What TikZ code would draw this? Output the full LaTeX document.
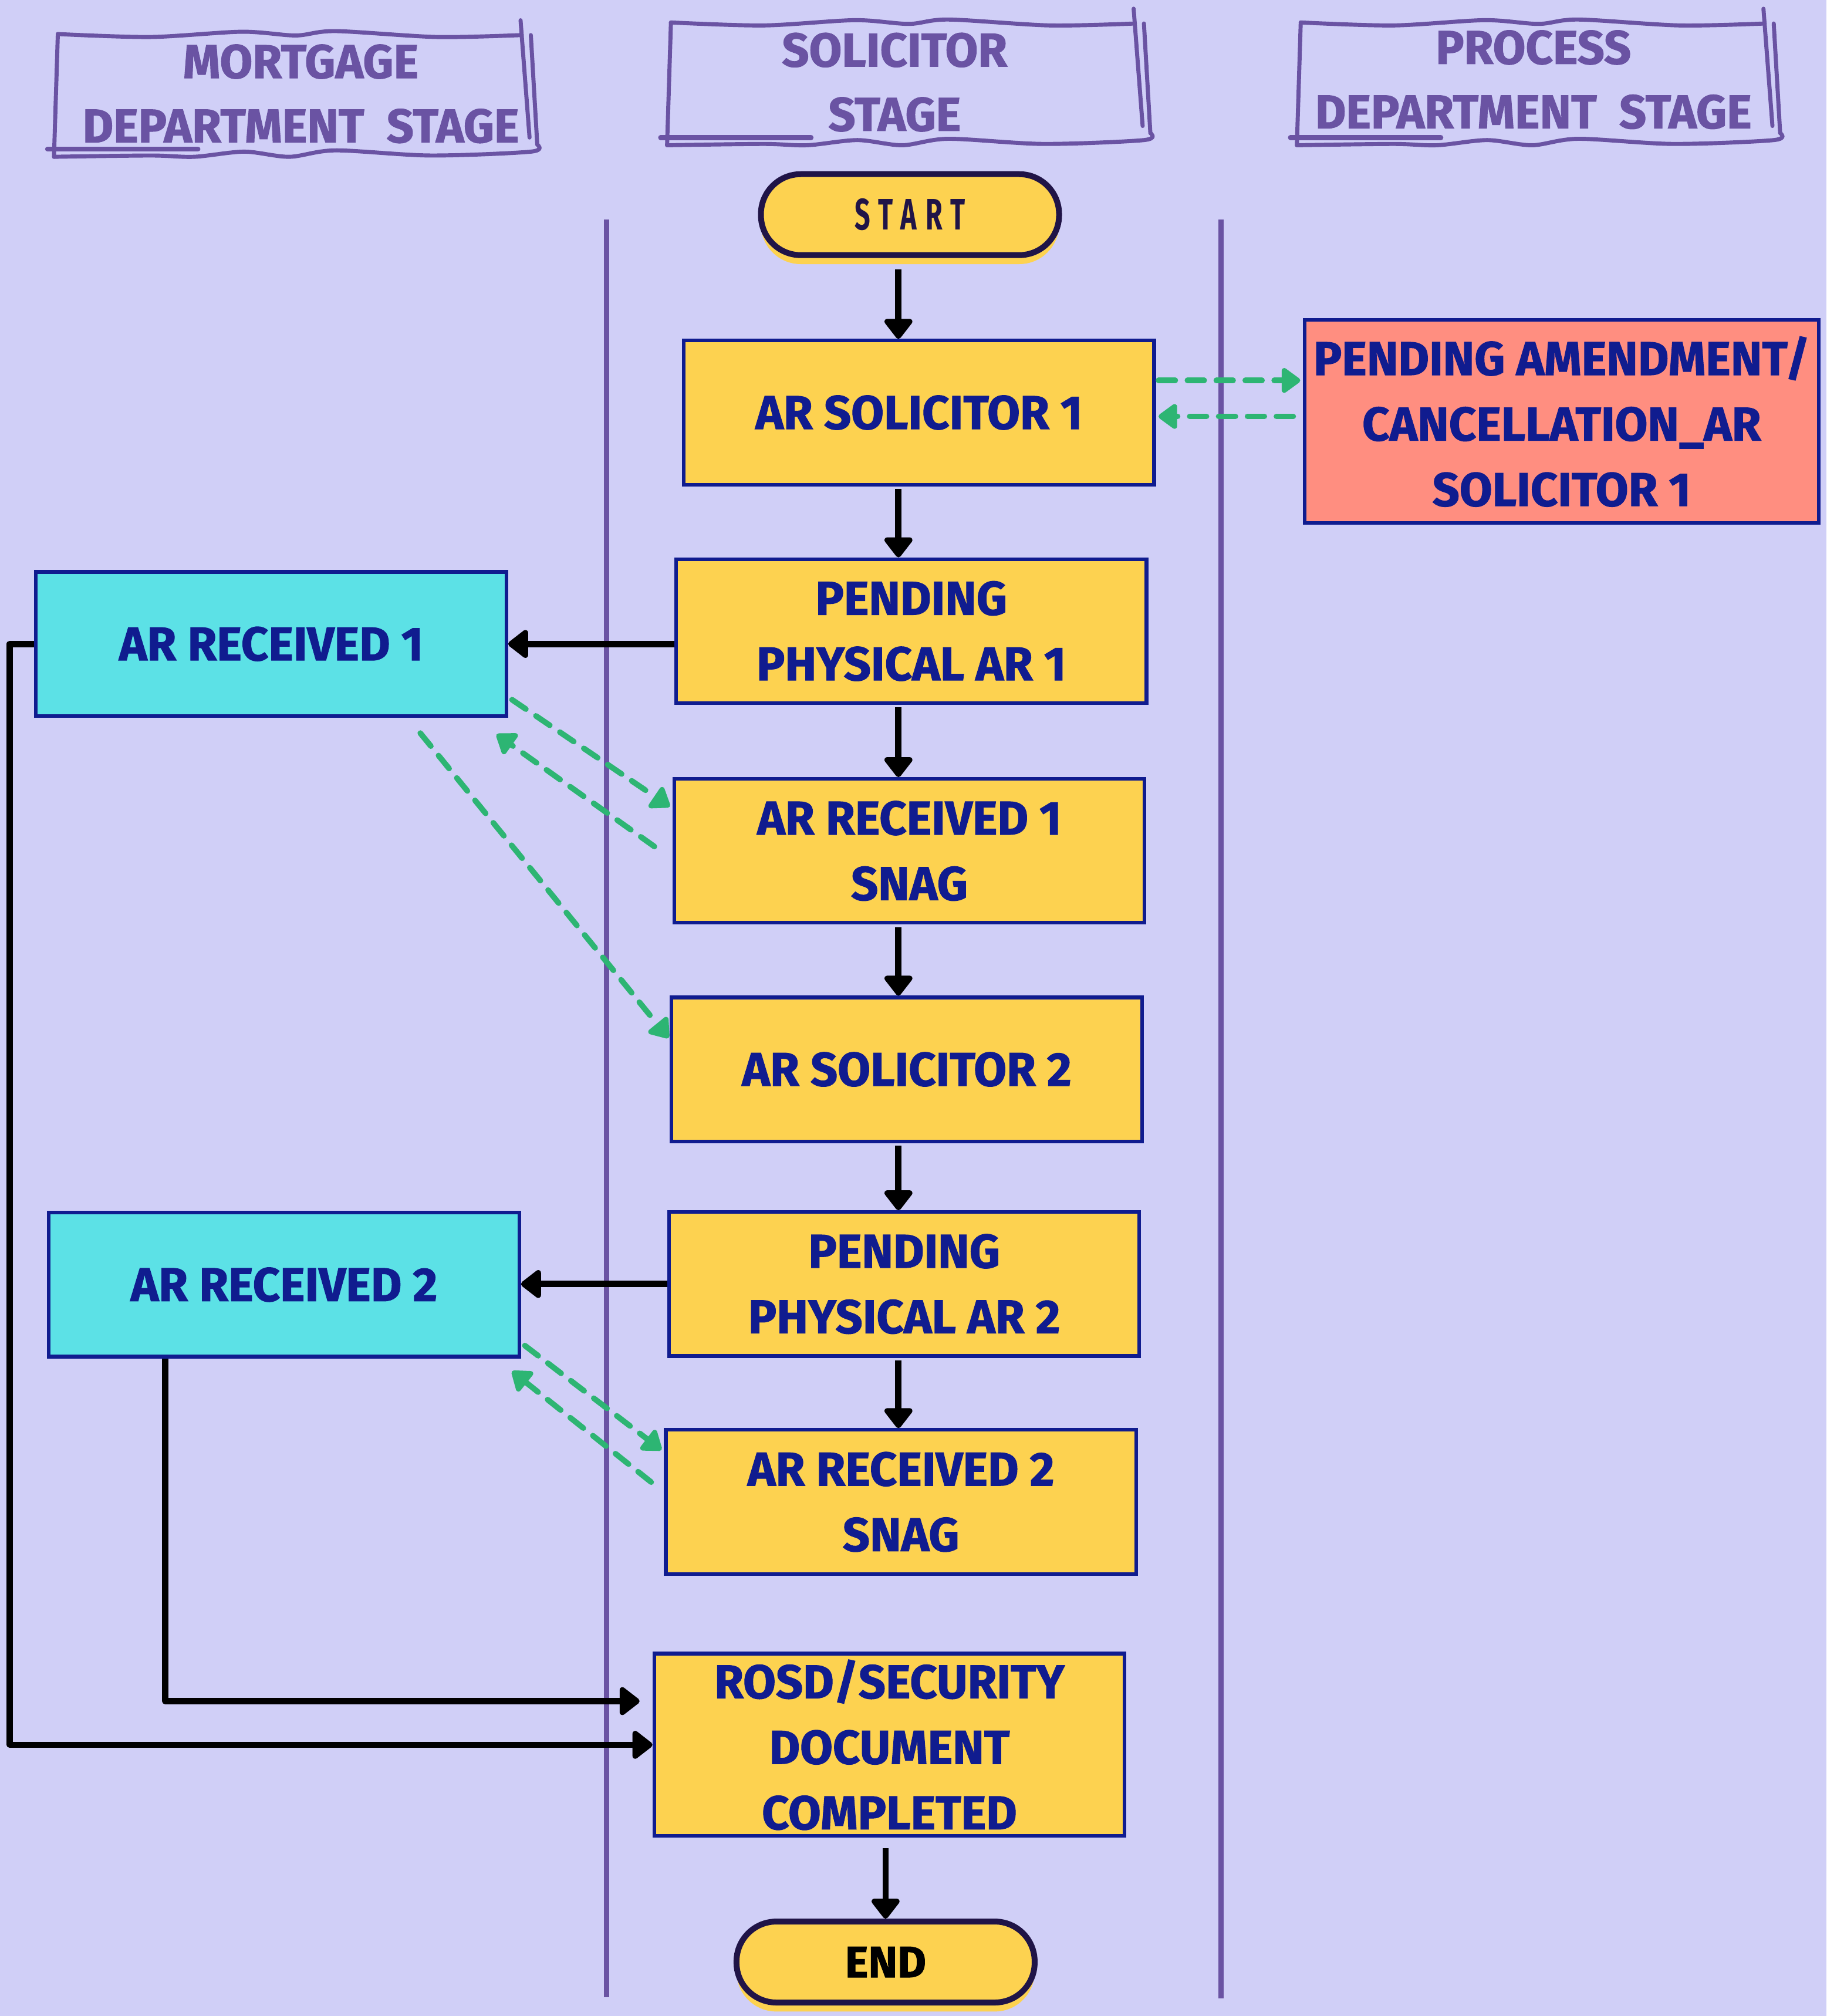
\documentclass[tikz,border=0pt]{standalone}
\usepackage{fontspec}
\setmainfont{Fira Sans}[BoldFeatures={FakeBold=1.3}]
\newfontfamily\spacedfont{Fira Sans}[LetterSpace=20,FakeStretch=0.62]
\usepackage{tikz}
\usetikzlibrary{arrows.meta,calc,shadows}

\definecolor{lavender}{HTML}{D0CFF7}
\definecolor{flowyellow}{HTML}{FDD250}
\definecolor{flowcyan}{HTML}{5CE1E6}
\definecolor{flowsalmon}{HTML}{FF8E80}
\definecolor{navy}{HTML}{101C8F}
\definecolor{lanepurple}{HTML}{6A53A3}
\definecolor{linkgreen}{HTML}{2DB573}
\definecolor{termdark}{HTML}{201447}

\begin{document}
\begin{tikzpicture}[x=0.02cm, y=-0.02cm,
            procbox/.style={draw=navy, line width=1.6pt, fill=flowyellow, rectangle,
                minimum width=7.32cm, minimum height=2.24cm, inner sep=1pt,
                align=center, text=navy, font=\bfseries\fontsize{21}{29}\selectfont},
            recvbox/.style={procbox, fill=flowcyan},
            amendbox/.style={procbox, fill=flowsalmon, minimum width=8cm, minimum height=3.16cm},
            terminal/.style={draw=termdark, line width=2.6pt, fill=flowyellow,
                rounded corners=0.62cm, minimum width=4.64cm, minimum height=1.26cm,
                drop shadow={shadow xshift=0cm, shadow yshift=-0.14cm, fill=flowyellow, opacity=1}},
            stagehead/.style={align=center, text=lanepurple, font=\bfseries\fontsize{21}{28.5}\selectfont},
            hand/.style={draw=lanepurple, line width=1.8pt, line cap=round, line join=round},
            lane/.style={draw=lanepurple, line width=2.4pt},
            flow/.style={draw=black, line width=2.8pt, line join=round,
                -{Triangle[width=0.5cm, length=0.34cm, round]}},
            link/.style={draw=linkgreen, line width=2.5pt, line cap=round,
                dash pattern=on 0.26cm off 0.19cm,
                -{Triangle[width=0.44cm, length=0.32cm, round]}}]
        \fill[lavender] (0,0) rectangle (1421,1568.5);
        \useasboundingbox (0,0) rectangle (1421,1568.5);

        % swim lanes
        \draw[lane] (472,171) -- (472,1554);
        \draw[lane] (950,171) -- (950,1555);

        % sketched stage headers
        \foreach \dx/\dy/\tx/\ty/\nm/\txt in {-477/9/234/73/mortgage/{MORTGAGE\\DEPARTMENT~~STAGE},
                0/0/696/64/solicitor/{SOLICITOR\\STAGE},
                490/0/1193/62/process/{PROCESS\\DEPARTMENT~~STAGE}} {
            \begin{scope}[shift={(\dx,\dy)}]
                \draw[hand] plot[smooth] coordinates {(522,17.5) (594,19.8) (665,15.7) (707,18.6)
                    (738,15.2) (817,19.8) (883,18.3)};
                \draw[hand] (522,17.5) -- (519,113);
                \draw[hand] plot[smooth] coordinates {(519,113) (594,112) (628,113) (667,109)
                    (702,113) (738,108) (812,112) (890,109) (895,103.5)};
                \draw[hand, line width=2.2pt] (514,107) -- (631,107);
                \draw[hand] (882,6.8) -- (889,98);
                \draw[hand] (890,18.3) -- (895,103.5);
            \end{scope}
            \node[stagehead] (head\nm) at (\tx,\ty) {\txt};
        }

        % solicitor column
        \node[terminal] (start) at (708,167) {\spacedfont\bfseries\fontsize{19.5}{20}\selectfont\color{termdark}START};
        \node[procbox] (arsol1) at (715,321) {AR SOLICITOR 1};
        \node[procbox] (ppar1) at (709,491) {PENDING\\PHYSICAL AR 1};
        \node[procbox] (snag1) at (707.5,662) {AR RECEIVED 1\\SNAG};
        \node[procbox] (arsol2) at (705.5,832) {AR SOLICITOR 2};
        \node[procbox] (ppar2) at (703.5,999) {PENDING\\PHYSICAL AR 2};
        \node[procbox] (snag2) at (701,1168.5) {AR RECEIVED 2\\SNAG};
        \node[procbox, minimum height=2.84cm] (rosd) at (692,1357.5) {ROSD/SECURITY\\DOCUMENT\\COMPLETED};
        \node[terminal] (finish) at (689,1526.5) {\bfseries\fontsize{19.5}{20}\selectfont END};

        % mortgage and process columns
        \node[recvbox] (arrec1) at (211,501) {AR RECEIVED 1};
        \node[recvbox] (arrec2) at (221,999.5) {AR RECEIVED 2};
        \node[amendbox] (pendamend) at (1215,328) {PENDING AMENDMENT/\\CANCELLATION\_AR\\SOLICITOR 1};

        \coordinate (spine) at (699,0);

        % main flow
        \draw[flow] ([yshift=-0.18cm]start.south -| spine) -- (arsol1.north -| spine);
        \draw[flow] ([yshift=-0.04cm]arsol1.south -| spine) -- (ppar1.north -| spine);
        \draw[flow] ([yshift=-0.04cm]ppar1.south -| spine) -- (snag1.north -| spine);
        \draw[flow] ([yshift=-0.04cm]snag1.south -| spine) -- (arsol2.north -| spine);
        \draw[flow] ([yshift=-0.04cm]arsol2.south -| spine) -- (ppar2.north -| spine);
        \draw[flow] ([yshift=-0.04cm]ppar2.south -| spine) -- (snag2.north -| spine);
        \draw[flow] ([yshift=-0.16cm]rosd.south -| finish) -- (finish.north);
        \draw[flow] (ppar1.west |- arrec1.east) -- (arrec1.east);
        \draw[flow] (ppar2.west) -- (ppar2.west -| arrec2.east);
        \draw[flow] (arrec1.west) -- ++(-19,0) |- (rosd.west);
        \draw[flow] ($(arrec2.south west)+(92,0)$) |- ($(rosd.west)+(-10,-34)$);

        % back and forth links
        \draw[link] ($(arsol1.east)+(2,-25)$) -- ($(pendamend.west |- arsol1.east)+(-2,-25)$);
        \draw[link] ($(pendamend.west |- arsol1.east)+(-7.5,3)$) -- ($(arsol1.east)+(2,3)$);
        \draw[link] ($(arrec1.south east)+(3,-14)$) -- ($(snag1.north west)+(-2,23)$);
        \draw[link] ($(snag1.north west)+(-14,54)$) -- ($(arrec1.south east)+(-9,13)$);
        \draw[link] ($(arrec1.south)+(116,12)$) -- ($(arsol2.north west)+(-1,33)$);
        \draw[link] ($(arrec2.south east)+(3,-10)$) -- ($(snag2.north west)+(-2,17)$);
        \draw[link] ($(snag2.north west)+(-10,42)$) -- ($(arrec2.south east)+(-7,10)$);
\end{tikzpicture}
\end{document}
